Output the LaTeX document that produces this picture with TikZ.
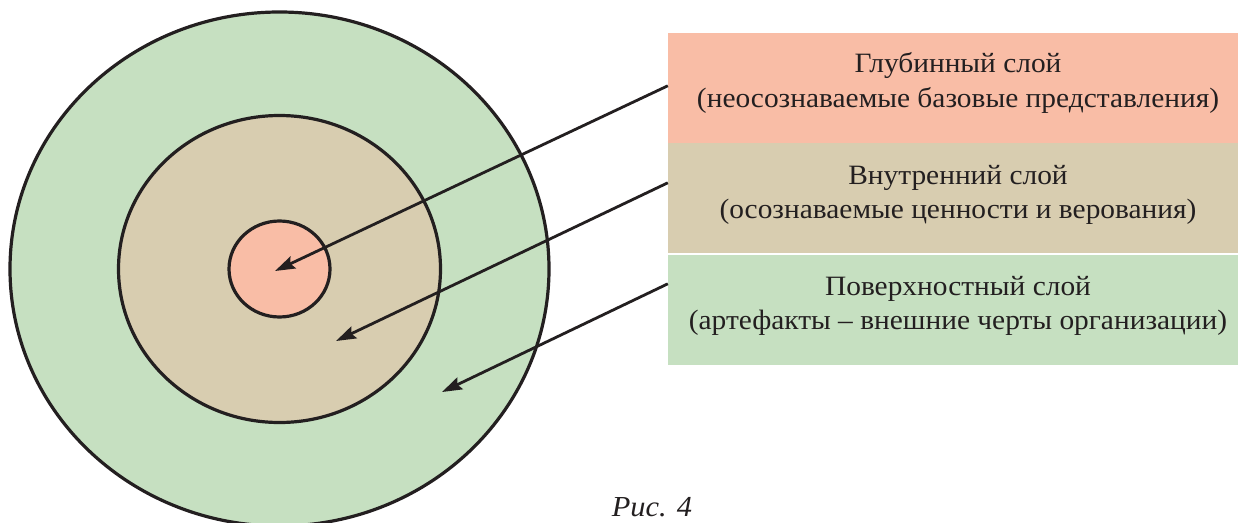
\documentclass[tikz,border=0pt]{standalone}
\usepackage{fontspec}
\setmainfont{Liberation Serif}[FakeStretch=1.05]
\usetikzlibrary{arrows.meta,shapes.geometric}
\definecolor{layerdeep}{RGB}{249,189,166}
\definecolor{layermid}{RGB}{216,205,176}
\definecolor{layertop}{RGB}{198,224,193}
\definecolor{ink}{RGB}{35,31,32}
\begin{document}
\begin{tikzpicture}[x=1pt,y=-1pt,
    ring/.style={ellipse,draw=ink,line width=3.2pt,inner sep=0pt},
    layerbox/.style={rectangle,inner sep=0pt,minimum width=570pt,minimum height=110pt},
    layertext/.style={align=center,inner sep=0pt,text=ink,font=\fontsize{28}{34.5}\selectfont},
    pointer/.style={-{Stealth[length=20pt,width=13pt,inset=3pt]},draw=ink,fill=ink,line width=2.8pt}]
    \useasboundingbox (0,0) rectangle (1238,522);

    % the three layers
    \node [ring,fill=layertop,minimum width=539pt,minimum height=514pt] (outer) at (279.5,269) {};
    \node [ring,fill=layermid,minimum width=322pt,minimum height=307pt] (middle) at (279.5,269) {};
    \node [ring,fill=layerdeep,minimum width=101pt,minimum height=96pt] (core) at (279.5,269) {};

    % the legend
    \node [layerbox,fill=layerdeep] (deepbox) at (953,88) {};
    \node [layerbox,fill=layermid] (midbox) at (953,198) {};
    \node [layerbox,fill=layertop] (topbox) at (953,310) {};
    \node [layertext] (deeptext) at ([xshift=5pt,yshift=5pt]deepbox.center) {Глубинный слой\\(неосознаваемые базовые представления)};
    \node [layertext] (midtext) at ([xshift=5pt,yshift=3pt]midbox.center) {Внутренний слой\\(осознаваемые ценности и верования)};
    \node [layertext] (toptext) at ([xshift=5pt,yshift=4pt]topbox.center) {Поверхностный слой\\(артефакты – внешние черты организации)};

    \coordinate (coretip) at (275,271);
    \coordinate (midtip) at (336,341);
    \coordinate (toptip) at (442,392);

    \draw [pointer] ([yshift=-53pt]deepbox.north west) -- (coretip);
    \draw [pointer] ([yshift=-40pt]midbox.north west) -- (midtip);
    \draw [pointer] ([yshift=-29pt]topbox.north west) -- (toptip);

    \node [anchor=base,text=ink,font=\itshape\fontsize{29}{30}\selectfont] (caption) at (652,516) {Рис. 4};
\end{tikzpicture}
\end{document}
